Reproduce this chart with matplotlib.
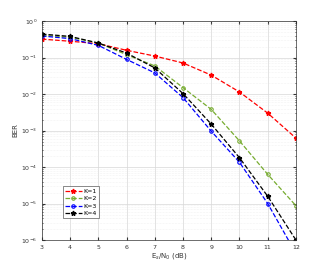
import matplotlib
matplotlib.use('Agg')
import matplotlib.pyplot as plt
from matplotlib.ticker import LogLocator, NullFormatter

snr_db = [3, 4, 5, 6, 7, 8, 9, 10, 11, 12]
ber_k1 = [0.32, 0.28, 0.24, 0.158, 0.11, 0.071, 0.033, 0.0114, 0.0030, 6.2e-4]
ber_k2 = [0.41, 0.36, 0.25, 0.12, 0.059, 0.015, 0.0038, 5.2e-4, 6.3e-5, 8.7e-6]
ber_k3 = [0.39, 0.33, 0.216, 0.089, 0.038, 0.0080, 9.6e-4, 1.35e-4, 1.0e-5, 4.3e-7]
ber_k4 = [0.44, 0.38, 0.25, 0.133, 0.052, 0.0103, 0.0015, 1.8e-4, 1.58e-5, 1.0e-6]
labels = ['K=1', 'K=2', 'K=3', 'K=4']
y_ticks = [1e-6, 1e-5, 1e-4, 1e-3, 1e-2, 1e-1, 1]

fig = plt.figure(figsize=(3.27, 2.7), dpi=100)
ax = fig.add_axes([0.128, 0.111, 0.777, 0.811])

ax.semilogy(snr_db, ber_k1, '--*', color='red', lw=0.9, ms=3.5, label=labels[0])
ax.semilogy(snr_db, ber_k2, '--o', color='#77ac30', lw=0.9, ms=2.5, mfc='none', mew=0.8, label=labels[1])
ax.semilogy(snr_db, ber_k3, '--o', color='blue', lw=0.9, ms=2.5, mfc='none', mew=0.8, label=labels[2])
ax.semilogy(snr_db, ber_k4, '--*', color='black', lw=0.9, ms=3.5, label=labels[3])

ax.set_xlim(3, 12)
ax.set_ylim(1e-6, 1)
ax.set_xticks(snr_db)
ax.set_yticks(y_ticks)
ax.yaxis.set_minor_locator(LogLocator(base=10, subs=range(2, 10), numticks=20))
ax.yaxis.set_minor_formatter(NullFormatter())

ax.grid(True, which='major', color='#d8d8d8', lw=0.5)
ax.grid(True, which='minor', color='#e8e8e8', lw=0.4, ls=':')
ax.tick_params(which='both', direction='in', labelsize=4.5, colors='#333333',
               top=True, right=True, length=2)
ax.tick_params(which='minor', length=1)
for s in ax.spines.values():
    s.set_color('#333333')
    s.set_linewidth(0.5)

ax.set_xlabel('E$_s$/N$_0$ (dB)', fontsize=5, color='#333333', labelpad=0.5)
ax.set_ylabel('BER', fontsize=5, color='#333333', labelpad=2)

leg = ax.legend(loc='lower left', bbox_to_anchor=(0.075, 0.09), fontsize=4.5,
                handlelength=2.6, borderpad=0.4, labelspacing=0.3, fancybox=False,
                handletextpad=0.3, borderaxespad=0.3)
leg.get_frame().set_edgecolor('#333333')
leg.get_frame().set_linewidth(0.5)

fig.savefig('out.png', dpi=100)
